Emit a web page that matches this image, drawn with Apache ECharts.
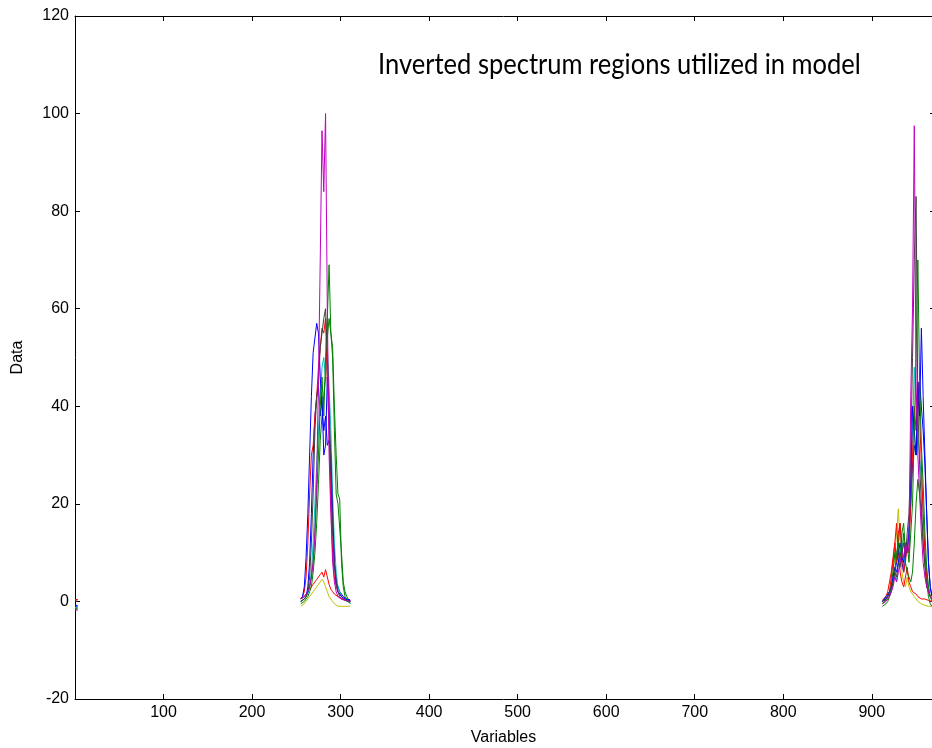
<!DOCTYPE html>
<html>
<head>
<meta charset="utf-8">
<script src="https://cdn.jsdelivr.net/npm/echarts@6/dist/echarts.min.js"></script>
<style>html,body{margin:0;padding:0;background:#fff}#c{width:932px;height:748px}</style>
</head>
<body>
<div id="c"></div>
<script>
// Variable positions of the two utilized regions (plus a tiny stub at the left edge)
const xLeft = [0, 3];
const xRegionA = [255,257,259,261,263,265,267,269,271,273,275,277,279,281,283,285,287,289,291,293,295,297,299,301,303,305,307,309,311];
const xRegionB = [912,914,916,918,920,922,924,926,928,930,932,934,936,938,940,942,944,946,948,950,952,954,956,958,960,962,964,966,968];

const xTicks = [100,200,300,400,500,600,700,800,900];
const yTicks = [-20,0,20,40,60,80,100,120];
const titleText = 'Inverted spectrum regions utilized in model';

// Series values (one array per sample and region)
const yellowL = [-1.3, -1.3];
const yellowA = [-1,-0.8,-0.5,0,0.5,1,1.5,2,2.5,3,3.5,4,4.5,4,3,2,1,0.5,0,-0.5,-0.5,-1,-1.2,-1,-1.2,-1,-0.8,-1,-1];
const yellowB = [-0.5,0,0.5,1,2,4,6,10,14,19,12,6,4,3,5,3,2,1.5,1,0.5,0,-0.3,-0.5,-0.5,-0.8,-1,-1,-1,-1];

const red2L = [0.3, 0.3];
const red2A = [0.5,0.8,1,1.5,2,2.5,3,3.5,4,4.5,5,5.5,6,5,6.5,5,3.5,2.5,2,1.5,1.2,1,0.8,0.5,0.5,0.3,0.3,0.2,0];
const red2B = [0,0.3,0.5,1,2,5,8,12,16,10,6,4,3,5,7,4,3,2,2,1.5,1,1,0.5,0.5,0.5,0.3,0.2,0.2,0];

const green2L = [-1.6, -1.6];
const green2A = [-0.5,-0.3,0,0.5,1,2,3,6,10,16,24,33,38,42,46,54,58,55,50,35,22,20,20,10,4,2,1,0.3,0];
const green2B = [-1,-0.8,-0.5,0,1,3,6,10,8,12,16,10,14,8,6,5,4,6,12,20,25,22,18,12,8,4,1,-0.5,-1];

const blue2L = [-1.0, -1.0];
const blue2A = [0,0.3,0.5,1,3,8,18,30,38,42,44,38,42,30,32,46,40,25,15,8,4,3,2,1.5,1,0.8,0.5,0.3,0.3];
const blue2B = [0,0.3,0.5,1,1.5,2,4,6,8,10,12,8,6,9,11,14,20,28,32,30,38,45,40,35,28,18,8,3,1];

const cyanL = [-1.2, -1.2];
const cyanA = [0,0.2,0.5,1,1.5,3,6,12,20,28,35,42,48,50,46,52,44,35,22,12,6,3,2,1,0.5,0.3,0,-0.2,-0.3];
const cyanB = [0,0.5,1,1.5,2,3,5,6,4,8,10,12,7,10,12,15,22,35,48,40,34,30,25,18,10,6,3,1,0.5];

const redL = [0.4, 0.4];
const redA = [0.5,1,2,5,12,22,30,32,38,42,48,52,56,55,58,45,35,20,10,5,3,2,1.5,1,0.5,0.5,0.3,0.2,0];
const redB = [0.3,0.5,1,2,4,6,9,12,8,14,16,10,6,8,12,10,20,30,40,35,45,38,28,18,10,5,2,1,0.5];

const blueL = [-0.8, -0.8];
const blueA = [0.5,1,3,9,18,30,42,51,54,57,55,46,40,35,38,32,33,30,18,8,4,2,1.5,1,0.8,0.5,0.5,0.3,0.2];
const blueB = [0,0.5,1,1.5,2,3,5,7,6,8,10,9,8,12,10,14,25,40,35,30,45,38,56,42,30,18,8,3,1];

const greenL = [-1.4, -1.4];
const greenA = [0,0.3,0.5,1,2,3,5,8,14,22,30,40,46,38,50,58,69,55,52,40,30,22,21,8,3,1,0.5,0,-0.5];
const greenB = [-0.5,0,0,0.5,1,2,4,6,10,12,8,14,16,10,12,8,14,20,35,50,70,45,32,24,14,7,3,1,0];

const grayL = [0.1, 0];
const grayA = [0,0.3,0.5,1,2,5,12,22,35,42,45,52,55,58,60,50,40,28,15,8,4,2,1,0.5,0.5,0.2,0,0,0];
const grayB = [0,0,0.5,1,2,3,4,6,5,8,7,10,12,9,14,18,30,50,70,83,40,28,20,12,7,3,2,1,0.5];

const magentaL = [-1.8, -1.8];
const magentaA = [0.5,0.5,1,1.5,2,3,5,8,14,25,45,70,96.5,84,100,60,30,18,8,4,2,1,1,0.5,0.5,0.3,0.2,0,0];
const magentaB = [-0.5,-0.3,0,0.5,1,2,3,5,4,6,8,10,9,12,10,11,42,60,97.5,45,30,22,14,8,5,3,2,1,0.5];

const seriesDefs = [
  ['#bfbf00', yellowL, yellowA, yellowB],
  ['#ff0000', red2L, red2A, red2B],
  ['#008000', green2L, green2A, green2B],
  ['#0000ff', blue2L, blue2A, blue2B],
  ['#00bfbf', cyanL, cyanA, cyanB],
  ['#ff0000', redL, redA, redB],
  ['#0000ff', blueL, blueA, blueB],
  ['#008000', greenL, greenA, greenB],
  ['#404040', grayL, grayA, grayB],
  ['#bf00bf', magentaL, magentaA, magentaB]
];

function build(l, a, b) {
  const d = [];
  xLeft.forEach((x, i) => d.push([x, l[i]]));
  d.push([100, null]);
  xRegionA.forEach((x, i) => d.push([x, a[i]]));
  d.push([600, null]);
  xRegionB.forEach((x, i) => d.push([x, b[i]]));
  return d;
}

const series = seriesDefs.map(([color, l, a, b]) => ({
  type: 'line',
  data: build(l, a, b),
  showSymbol: false,
  connectNulls: false,
  lineStyle: { color: color, width: 1 },
  itemStyle: { color: color },
  silent: true,
  clip: true
}));

const font = 'Liberation Sans, Arial, sans-serif';
const chart = echarts.init(document.getElementById('c'), null, { renderer: 'canvas' });
chart.setOption({
  animation: false,
  backgroundColor: '#ffffff',
  graphic: [{
    type: 'text', x: 378, y: 50, scaleX: 0.88, z: 100,
    style: { text: titleText, font: '29px Lato, "Open Sans", sans-serif', fill: '#000' }
  }],
  grid: { left: 75, right: 0, top: 16, bottom: 49, containLabel: false, outerBoundsMode: 'none' },
  xAxis: [{
    type: 'value', position: 'bottom', min: 0, max: 968, interval: 100,
    name: 'Variables', nameLocation: 'middle', nameGap: 31,
    nameTextStyle: { fontFamily: font, fontSize: 16, color: '#000' },
    axisLine: { show: true, onZero: false, lineStyle: { color: '#000', width: 1 } },
    axisTick: { show: true, inside: true, length: 5, lineStyle: { color: '#000' } },
    axisLabel: { fontFamily: font, fontSize: 16, color: '#000', margin: 6, showMinLabel: false, showMaxLabel: false,
      formatter: v => (xTicks.indexOf(v) >= 0 ? String(v) : '') },
    splitLine: { show: false }
  }, {
    type: 'value', position: 'top', min: 0, max: 968, interval: 100,
    axisLine: { show: true, onZero: false, lineStyle: { color: '#000', width: 1 } },
    axisTick: { show: true, inside: true, length: 5, lineStyle: { color: '#000' } },
    axisLabel: { show: false },
    splitLine: { show: false }
  }],
  yAxis: [{
    type: 'value', position: 'left', min: -20, max: 120, interval: 20,
    name: 'Data', nameLocation: 'middle', nameGap: 49,
    nameTextStyle: { fontFamily: font, fontSize: 16, color: '#000' },
    axisLine: { show: true, onZero: false, lineStyle: { color: '#000', width: 1 } },
    axisTick: { show: true, inside: true, length: 5, lineStyle: { color: '#000' } },
    axisLabel: { fontFamily: font, fontSize: 16, color: '#000', margin: 6,
      formatter: v => (yTicks.indexOf(v) >= 0 ? String(v) : '') },
    splitLine: { show: false }
  }, {
    type: 'value', position: 'right', offset: 4, min: -20, max: 120, interval: 20,
    axisLine: { show: false, onZero: false },
    axisTick: { show: true, inside: true, length: 6, lineStyle: { color: '#000' } },
    axisLabel: { show: false },
    splitLine: { show: false }
  }],
  series: series
});
</script>
</body>
</html>
